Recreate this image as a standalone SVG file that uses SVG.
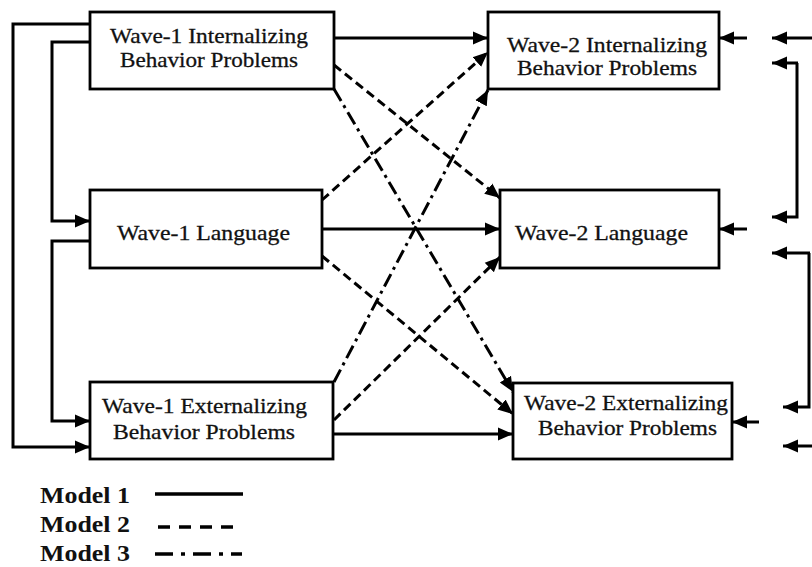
<svg xmlns="http://www.w3.org/2000/svg" width="812" height="567" viewBox="0 0 812 567">
<defs>
<marker id="ah" markerUnits="userSpaceOnUse" markerWidth="18" markerHeight="16" refX="15" refY="8" orient="auto">
<path d="M0,1.5 L15,8 L0,14.5 z" fill="#000"/>
</marker>
<style>
.box{fill:#fff;stroke:#000;stroke-width:2.8}
.t{font-family:"Liberation Serif","Times New Roman",serif;font-size:22px;fill:#111;stroke:#111;stroke-width:0.3}
.lg{font-family:"Liberation Serif","Times New Roman",serif;font-size:23px;font-weight:bold;fill:#111}
.c{fill:none;stroke:#000;stroke-width:3}
.a{marker-end:url(#ah)}
.d{stroke-dasharray:9 5}
.dd{stroke-dasharray:14 5 3 5}
</style>
</defs>
<rect width="812" height="567" fill="#fff"/>
<g id="connectors">
<polyline class="c a" points="90,24 13,24 13,447 90,447"/>
<polyline class="c a" points="90,42 52,42 52,221 90,221"/>
<polyline class="c a" points="90,241 52,241 52,421 90,421"/>
<line class="c a" x1="334" y1="38" x2="488" y2="38"/>
<line class="c a" x1="322" y1="229" x2="500" y2="229"/>
<line class="c a" x1="333" y1="434" x2="513" y2="434"/>
<line class="c a d" x1="334" y1="65" x2="500" y2="198"/>
<line class="c a d" x1="322" y1="200" x2="488" y2="52"/>
<line class="c a d" x1="322" y1="256" x2="513" y2="414"/>
<line class="c a d" x1="334" y1="420" x2="500" y2="257"/>
<line class="c a dd" x1="334" y1="89" x2="513" y2="392"/>
<line class="c a dd" x1="334" y1="382" x2="488" y2="90"/>
<line class="c a" x1="747" y1="38" x2="719" y2="38"/>
<line class="c a" x1="812" y1="38" x2="772" y2="38"/>
<polyline class="c a" points="797,63 797,217 772,217"/>
<line class="c a" x1="798" y1="63" x2="772" y2="63"/>
<line class="c a" x1="747" y1="229" x2="719" y2="229"/>
<polyline class="c a" points="809,253 809,407 783,407"/>
<line class="c a" x1="810" y1="253" x2="772" y2="253"/>
<line class="c a" x1="759" y1="422" x2="732" y2="422"/>
<line class="c a" x1="812" y1="446" x2="783" y2="446"/>
</g>
<g id="w1int">
<rect class="box" x="90" y="12" width="244" height="77"/>
<text class="t" x="110" y="43" textLength="198" lengthAdjust="spacingAndGlyphs">Wave-1 Internalizing</text>
<text class="t" x="120" y="67" textLength="178" lengthAdjust="spacingAndGlyphs">Behavior Problems</text>
</g>
<g id="w1lang">
<rect class="box" x="90" y="190" width="232" height="78"/>
<text class="t" x="117" y="240" textLength="173" lengthAdjust="spacingAndGlyphs">Wave-1 Language</text>
</g>
<g id="w1ext">
<rect class="box" x="90" y="382" width="243" height="77"/>
<text class="t" x="102" y="413" textLength="205" lengthAdjust="spacingAndGlyphs">Wave-1 Externalizing</text>
<text class="t" x="113" y="439" textLength="182" lengthAdjust="spacingAndGlyphs">Behavior Problems</text>
</g>
<g id="w2int">
<rect class="box" x="488" y="12" width="231" height="77"/>
<text class="t" x="507" y="52" textLength="200" lengthAdjust="spacingAndGlyphs">Wave-2 Internalizing</text>
<text class="t" x="517" y="75" textLength="180" lengthAdjust="spacingAndGlyphs">Behavior Problems</text>
</g>
<g id="w2lang">
<rect class="box" x="500" y="190" width="219" height="78"/>
<text class="t" x="515" y="240" textLength="173" lengthAdjust="spacingAndGlyphs">Wave-2 Language</text>
</g>
<g id="w2ext">
<rect class="box" x="513" y="383" width="219" height="76"/>
<text class="t" x="524" y="410" textLength="204" lengthAdjust="spacingAndGlyphs">Wave-2 Externalizing</text>
<text class="t" x="538" y="435" textLength="179" lengthAdjust="spacingAndGlyphs">Behavior Problems</text>
</g>
<g id="legend">
<text class="lg" x="40" y="503" textLength="90" lengthAdjust="spacingAndGlyphs">Model 1</text>
<text class="lg" x="40" y="532" textLength="90" lengthAdjust="spacingAndGlyphs">Model 2</text>
<text class="lg" x="40" y="561" textLength="90" lengthAdjust="spacingAndGlyphs">Model 3</text>
<line x1="155" y1="494" x2="243" y2="494" stroke="#000" stroke-width="3.5"/>
<line x1="158" y1="527" x2="236" y2="527" stroke="#000" stroke-width="3.5" stroke-dasharray="12 9"/>
<line x1="155" y1="554" x2="242" y2="554" stroke="#000" stroke-width="3.5" stroke-dasharray="18 8 4 8"/>
</g>
</svg>
